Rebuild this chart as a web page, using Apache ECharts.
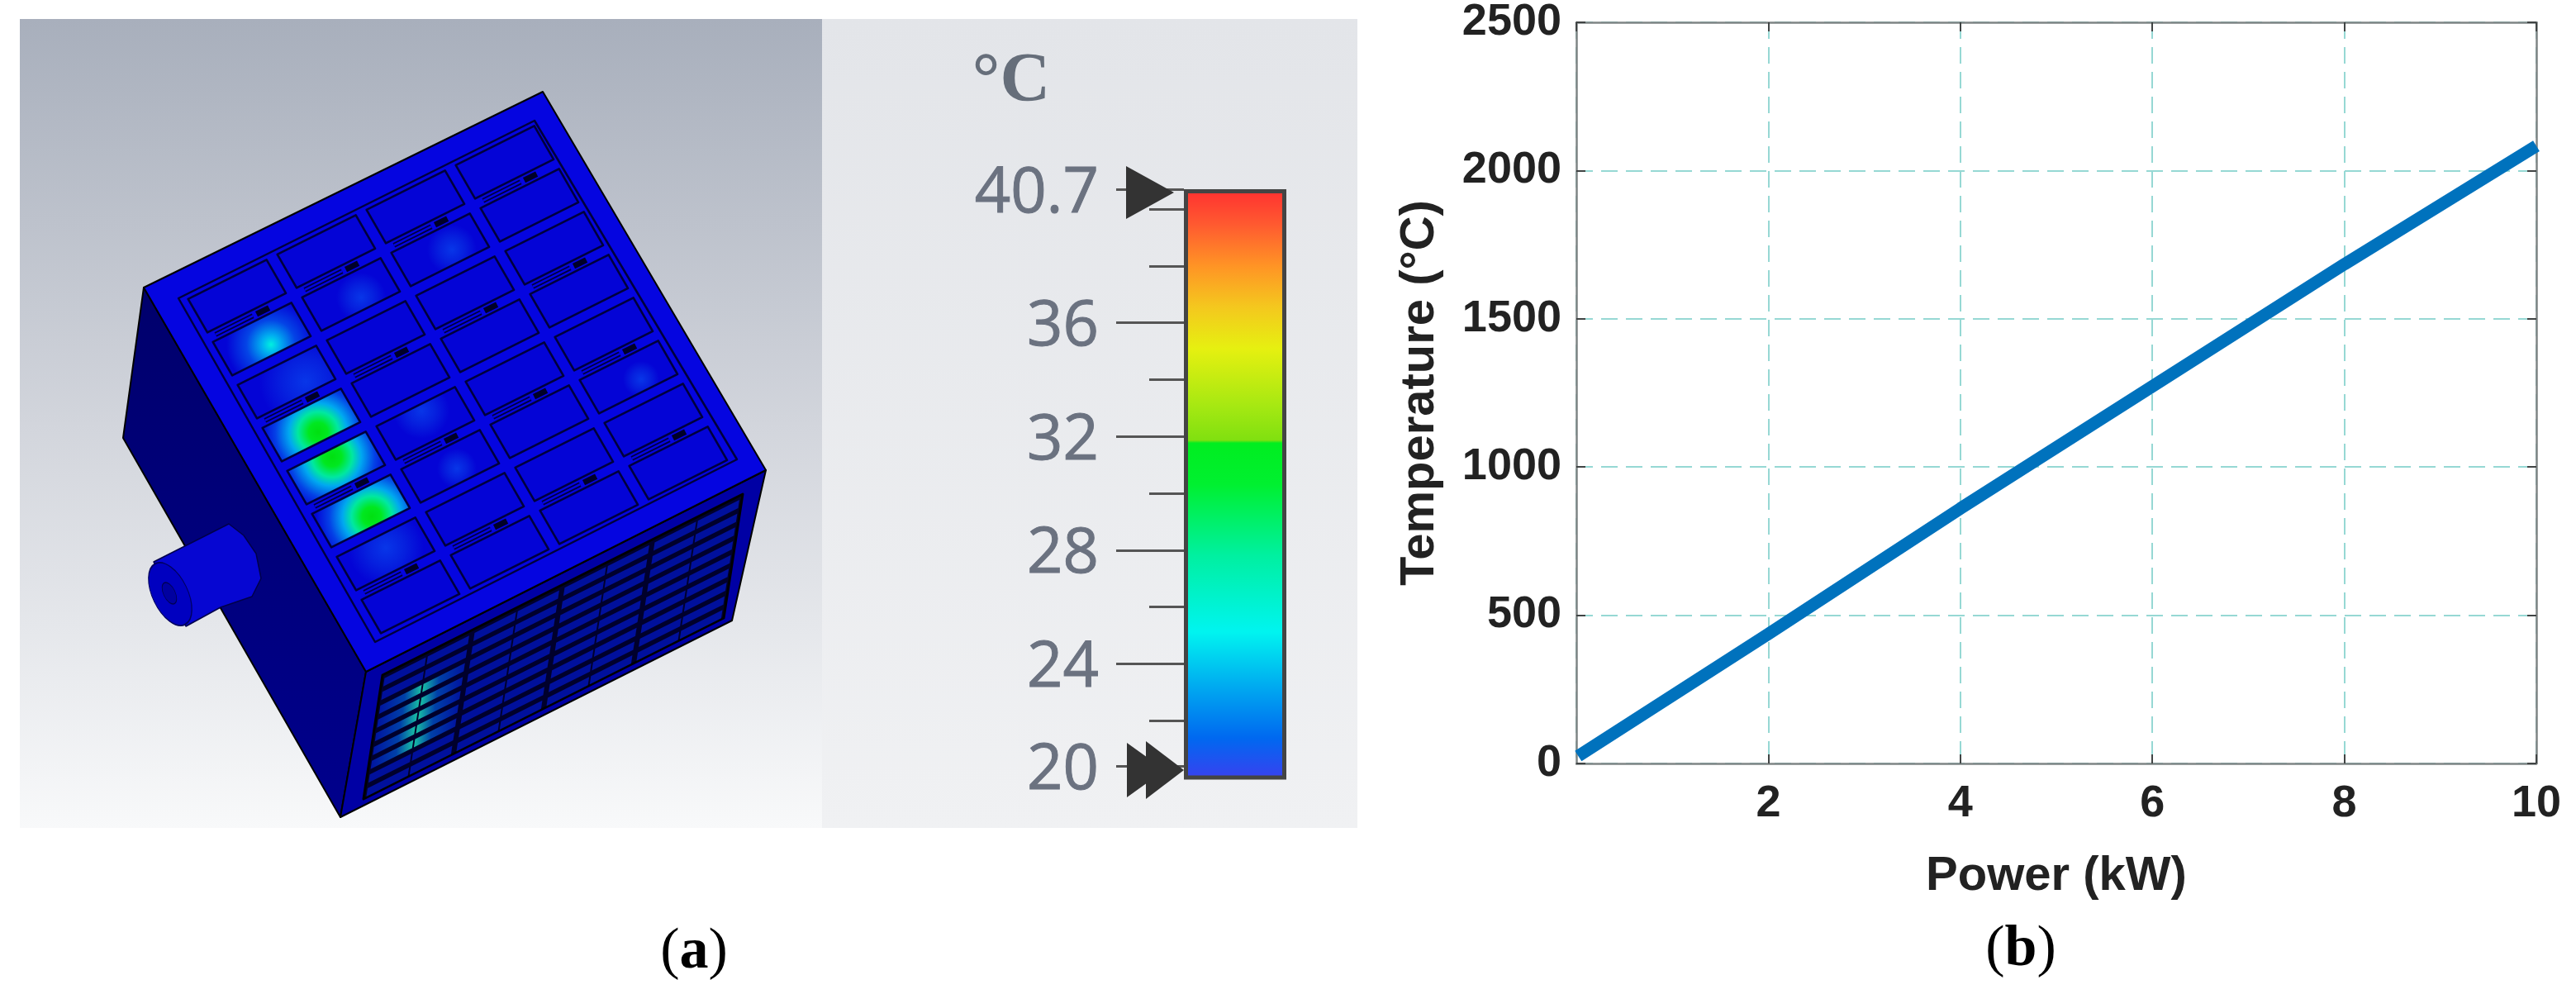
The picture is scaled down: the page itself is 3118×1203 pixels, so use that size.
<!DOCTYPE html>
<html>
<head>
<meta charset="utf-8">
<style>html,body{margin:0;padding:0;background:#fff}#c{width:3118px;height:1203px}</style>
<script src="https://cdn.jsdelivr.net/npm/echarts@6/dist/echarts.min.js"></script>
</head>
<body>
<div id="c"></div>
<script>
// ---- panel (b) data ----
const powerKw = [0.02, 2, 4, 6, 8, 10];
const temperatureC = [25, 437, 860, 1272, 1684, 2083];
// ---- panel (a) colour scale ----
const scaleMin = 20;
const scaleMax = 40.7;
// the "20" label and tick sit slightly above the bar's foot in the original
const scaleTickValues = [20.4, 24, 28, 32, 36, 40.7];
const scaleTickLabels = ['20', '24', '28', '32', '36', '40.7'];
const scaleMinorTicks = [22, 26, 30, 34, 38, 40];
const scaleStops = [
  [0, '#ff3030'], [0.06, '#ff5a30'], [0.13, '#ff9425'], [0.2, '#f4c81e'], [0.27, '#e6f010'],
  [0.37, '#a4e812'], [0.425, '#80e010'], [0.43, '#00ee20'], [0.5, '#00f030'], [0.62, '#00f0a0'],
  [0.75, '#00f4f0'], [0.85, '#00a4f0'], [0.93, '#0068f0'], [1, '#3a40f0']
];

// ---- illustration helpers (the simulated 3D enclosure, not data) ----
const g = [];
const add = o => { o.silent = true; o.z = -1; g.push(o); };
const poly = (pts, fill, stroke, lw) => add({ type: 'polygon', shape: { points: pts },
  style: { fill: fill || 'none', stroke: stroke || 'none', lineWidth: lw || 0, lineJoin: 'round' } });
const lerp = (o, u, v, a, b) => [o[0] + u[0] * a + v[0] * b, o[1] + u[1] * a + v[1] * b];
const lin = (c0, c1, c2) => ({ type: 'linear', x: 0, y: 0, x2: 0, y2: 1, colorStops: c2
  ? [{ offset: 0, color: c0 }, { offset: .5, color: c1 }, { offset: 1, color: c2 }]
  : [{ offset: 0, color: c0 }, { offset: 1, color: c1 }] });

// backgrounds
add({ type: 'rect', shape: { x: 24, y: 23, width: 971, height: 979 }, style: { fill: lin('#a8afbc', '#d2d5dc', '#f8f9fa') } });
add({ type: 'rect', shape: { x: 995, y: 23, width: 648, height: 979 }, style: { fill: lin('#e3e5e9', '#f0f1f3') } });

// box
const A = [174, 348], B = [657, 111], C = [927, 569], D = [443, 813], E = [412, 989], F = [149, 530], G = [886, 751];
poly([A, D, E, F], lin('#00006c', '#00008c'), '#000', 2);
// spigot
poly([[277, 634], [295, 648], [310, 670], [316, 700], [305, 722], [267, 735], [225, 758], [186, 680]], '#0606d2', '#00004a', 1.5);
add({ type: 'circle', x: 206, y: 719, scaleX: .52, scaleY: 1, rotation: .45, shape: { r: 41 }, style: { fill: '#0000c0', stroke: '#000060', lineWidth: 2 } });
add({ type: 'circle', x: 205, y: 718, scaleX: .5, scaleY: 1, rotation: .45, shape: { r: 14 }, style: { fill: '#0000a0', stroke: '#000050', lineWidth: 1.5 } });
// front face
poly([D, C, G, E], '#0000a4', '#000', 2);
const TL = [463, 817], uF = [436 / 8, -219 / 8], vF = [-23 / 9, 150 / 9];
poly([lerp(TL, uF, vF, 0, 0), lerp(TL, uF, vF, 8, 0), lerp(TL, uF, vF, 8, 9), lerp(TL, uF, vF, 0, 9)], '#00002c', '#000', 3);
for (let i = 0; i < 8; i++) for (let j = 0; j < 9; j++) {
  const hot = j >= 2 && j <= 6 && (i === 0 || i === 1);
  const l = i % 2 ? .02 : .06, r = i % 2 ? .94 : .98;
  const col = hot ? { type: 'linear', x: i ? 1 : 0, y: 0, x2: i ? 0 : 1, y2: 0, colorStops: [
    { offset: 0, color: '#0014a0' }, { offset: .6, color: '#0040a8' }, { offset: 1, color: '#18c0a4' }] } : '#00109c';
  poly([lerp(TL, uF, vF, i + l, j + .32), lerp(TL, uF, vF, i + r, j + .32), lerp(TL, uF, vF, i + r, j + .92), lerp(TL, uF, vF, i + l, j + .92)], col);
}
// top face
poly([A, B, C, D], '#0505e0', '#000', 2);
const P1 = [216, 361], uT = [108, -54], vT = [30, 52];
const cell = (i, j) => [lerp(P1, uT, vT, i + .08, j + .1), lerp(P1, uT, vT, i + .96, j + .1), lerp(P1, uT, vT, i + .96, j + .88), lerp(P1, uT, vT, i + .08, j + .88)];
// heated spots: each one fills the cell it lies in, so that it stays inside that cell
const cellBlue = '#0404d6';
const spotStops = {
  green: [[0, '#00e010'], [.17, '#00e820'], [.36, '#00e8a0'], [.52, '#00a8f0'], [.76, '#0440e6'], [1, cellBlue]],
  cyan: [[0, '#00f0e0'], [.2, '#00b0f0'], [.55, '#0444e6'], [1, cellBlue]],
  faint: [[0, '#0836e8'], [.5, '#0620de'], [1, cellBlue]]
};
const spots = [
  [385, 523, 68, 'green'], [402, 553, 68, 'green'], [450, 625, 68, 'green'], [328, 417, 54, 'cyan'],
  [370, 462, 56, 'faint'], [437, 360, 30, 'faint'], [553, 567, 24, 'faint'], [467, 663, 46, 'faint'],
  [510, 497, 34, 'faint'], [547, 302, 30, 'faint'], [776, 459, 22, 'faint']
];
const det = uT[0] * vT[1] - uT[1] * vT[0];
const spotByCell = {};
spots.forEach(s => {
  const dx = s[0] - P1[0], dy = s[1] - P1[1];
  const a = (dx * vT[1] - dy * vT[0]) / det, b = (dy * uT[0] - dx * uT[1]) / det;
  spotByCell[Math.floor(a) + ',' + Math.floor(b)] = s;
});
for (let i = 0; i < 4; i++) for (let j = 0; j < 8; j++) {
  const s = spotByCell[i + ',' + j];
  const fill = s ? { type: 'radial', global: true, x: s[0], y: s[1], r: s[2],
    colorStops: spotStops[s[3]].map(t => ({ offset: t[0], color: t[1] })) } : cellBlue;
  poly(cell(i, j), fill);
}
// outlines, frame and slots
poly([P1, [647, 146], [892, 556], [454, 777]], null, '#00003c', 2.5);
for (let i = 0; i < 4; i++) for (let j = 0; j < 8; j++) poly(cell(i, j), null, '#00003c', 2.6);
for (let i = 0; i < 4; i++) for (let j = 0; j < 8; j += 2) {
  const a = lerp(P1, uT, vT, i + .14, j + 1 - .01), b = lerp(P1, uT, vT, i + .56, j + 1 - .01);
  add({ type: 'line', shape: { x1: a[0], y1: a[1], x2: b[0], y2: b[1] }, style: { stroke: '#00003c', lineWidth: 6 } });
  add({ type: 'line', shape: { x1: a[0], y1: a[1], x2: b[0], y2: b[1] }, style: { stroke: '#0505e0', lineWidth: 2.5 } });
  const c = lerp(P1, uT, vT, i + .6, j + 1 - .01), d = lerp(P1, uT, vT, i + .74, j + 1 - .01);
  add({ type: 'line', shape: { x1: c[0], y1: c[1], x2: d[0], y2: d[1] }, style: { stroke: '#000028', lineWidth: 7 } });
}
const serif = '"Liberation Serif", serif';
const caption = (txt, x, y) => g.push({ type: 'text', x, y, silent: true,
  style: { text: '{r|(}{b|' + txt + '}{r|)}', align: 'center', verticalAlign: 'middle',
    rich: { r: { fontFamily: serif, fontSize: 70, color: '#000', fill: '#000' },
            b: { fontFamily: serif, fontSize: 70, fontWeight: 'bold', color: '#000', fill: '#000' } } } });
caption('a', 840, 1153);
caption('b', 2446, 1150);
g.push({ type: 'text', x: 1224, y: 100, silent: true, z: 3,
  style: { text: '°C', font: 'bold 84px ' + serif, fill: '#666e7a', align: 'center', verticalAlign: 'middle' } });

const plotAxisLine = { show: true, onZero: false, lineStyle: { color: '#7f8585', width: 2.5 } };
const plotTick = { show: true, inside: true, length: 11, lineStyle: { color: '#404444', width: 2 } };
const sans = '"Liberation Sans", Arial, sans-serif';
const gridDash = { show: true, lineStyle: { type: [20, 10], color: '#96d8d4', width: 2 } };
const option = {
  animation: false,
  backgroundColor: '#fff',
  graphic: { elements: g },
  grid: [
    { left: 1908, top: 25, width: 1162, height: 899, containLabel: false },
    { left: 1433, top: 229, width: 124, height: 712, containLabel: false }
  ],
  xAxis: [
    { type: 'value', gridIndex: 0, min: 0, max: 10, interval: 2, position: 'bottom',
      name: 'Power (kW)', nameLocation: 'center', nameGap: 108,
      nameTextStyle: { fontFamily: sans, fontWeight: 'bold', fontSize: 58, color: '#222' },
      axisLine: plotAxisLine, axisTick: plotTick,
      axisLabel: { showMinLabel: false, showMaxLabel: true, margin: 22, fontFamily: sans, fontWeight: 'bold', fontSize: 54, color: '#222' },
      splitLine: gridDash },
    { type: 'value', gridIndex: 0, min: 0, max: 10, interval: 2, position: 'top',
      axisLine: plotAxisLine, axisTick: plotTick, axisLabel: { show: false }, splitLine: { show: false } },
    { type: 'category', gridIndex: 1, data: [''], show: false }
  ],
  yAxis: [
    { type: 'value', gridIndex: 0, min: 0, max: 2500, interval: 500, position: 'left',
      name: 'Temperature (°C)', nameLocation: 'center', nameGap: 160,
      nameTextStyle: { fontFamily: sans, fontWeight: 'bold', fontSize: 58, color: '#222' },
      axisLine: plotAxisLine, axisTick: plotTick,
      axisLabel: { margin: 18, fontFamily: sans, fontWeight: 'bold', fontSize: 54, color: '#222', formatter: v => String(v) },
      splitLine: gridDash },
    { type: 'value', gridIndex: 0, min: 0, max: 2500, interval: 500, position: 'right',
      axisLine: plotAxisLine, axisTick: plotTick, axisLabel: { show: false }, splitLine: { show: false } },
    { type: 'value', gridIndex: 1, min: scaleMin, max: scaleMax, position: 'left',
      axisLine: { show: false },
      axisTick: { show: true, length: 82, customValues: scaleTickValues, lineStyle: { color: '#555', width: 3 } },
      axisLabel: { show: true, margin: 103, customValues: scaleTickValues, verticalAlign: 'top', lineHeight: 12,
        formatter: v => scaleTickLabels[scaleTickValues.indexOf(v)],
        fontFamily: '"Open Sans", sans-serif', fontSize: 76, color: '#6b7280', textBorderColor: '#6b7280', textBorderWidth: 1 },
      splitLine: { show: false } },
    { type: 'value', gridIndex: 1, min: scaleMin, max: scaleMax, position: 'left',
      axisLine: { show: false },
      axisTick: { show: true, length: 42, customValues: scaleMinorTicks, lineStyle: { color: '#555', width: 3 } },
      axisLabel: { show: false }, splitLine: { show: false } }
  ],
  series: [
    { type: 'line', xAxisIndex: 0, yAxisIndex: 0, data: powerKw.map((p, i) => [p, temperatureC[i]]),
      showSymbol: false, clip: false, z: 5, lineStyle: { color: '#0072bd', width: 15, cap: 'butt' } },
    { type: 'bar', xAxisIndex: 2, yAxisIndex: 2, data: [scaleMax], barWidth: '100%', silent: true, z: 3,
      itemStyle: { borderColor: '#444', borderWidth: 5,
        color: { type: 'linear', x: 0, y: 0, x2: 0, y2: 1, colorStops: scaleStops.map(s => ({ offset: s[0], color: s[1] })) } } },
    { type: 'scatter', xAxisIndex: 2, yAxisIndex: 2, silent: true, z: 4, data: [[0, scaleMax]],
      symbol: 'triangle', symbolRotate: -90, symbolSize: [64, 58], symbolOffset: [-103, 4], itemStyle: { color: '#333', opacity: 1 } },
    { type: 'scatter', xAxisIndex: 2, yAxisIndex: 2, silent: true, z: 4, data: [[0, scaleMin]],
      symbol: 'triangle', symbolRotate: -90, symbolSize: [66, 46], symbolOffset: [-108, -9], itemStyle: { color: '#333', opacity: 1 } },
    { type: 'scatter', xAxisIndex: 2, yAxisIndex: 2, silent: true, z: 4, data: [[0, scaleMin]],
      symbol: 'triangle', symbolRotate: -90, symbolSize: [70, 46], symbolOffset: [-85, -9], itemStyle: { color: '#333', opacity: 1 } }
  ]
};
const chart = echarts.init(document.getElementById('c'), null, { renderer: 'canvas', width: 3118, height: 1203 });
chart.setOption(option);
</script>
</body>
</html>
